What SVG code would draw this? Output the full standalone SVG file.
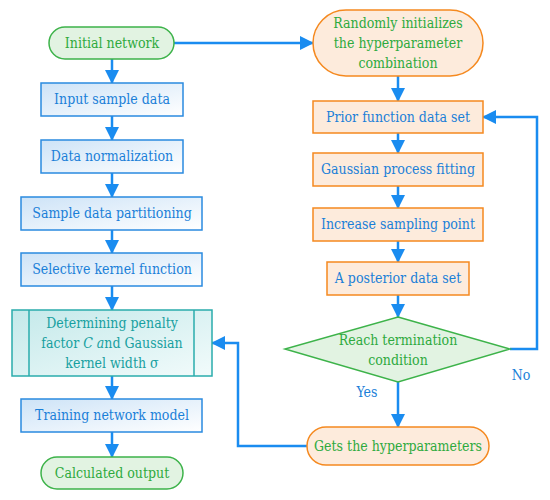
<svg xmlns="http://www.w3.org/2000/svg" width="550" height="500" viewBox="0 0 550 500">
<style>
text{font-family:'DejaVu Serif Condensed','DejaVu Serif',serif;font-stretch:condensed;font-size:14px;text-anchor:middle}
.g{fill:#e2f3e2;stroke:#3db34a;stroke-width:1.5}
.gt{fill:#2eaa3e}
.b{fill:url(#bg);stroke:#2a8ae0;stroke-width:1.5}
.bt{fill:#1a7fd8}
.o{fill:#fdebdc;stroke:#f5891f;stroke-width:1.5}
.t{fill:url(#tg);stroke:#2aacac;stroke-width:1.5}
.tt{fill:#17a0a0}
.c{fill:none;stroke:#1a8cf0;stroke-width:2.5}
</style>
<defs>
<linearGradient id="bg" x1="0" y1="0" x2="1" y2="1">
<stop offset="0" stop-color="#cde3f7"/><stop offset="1" stop-color="#ffffff"/>
</linearGradient>
<linearGradient id="tg" x1="0" y1="0" x2="1" y2="1">
<stop offset="0" stop-color="#c4e9ea"/><stop offset="1" stop-color="#f2fbfb"/>
</linearGradient>
<marker id="ah" markerUnits="userSpaceOnUse" markerWidth="14" markerHeight="14" viewBox="0 0 14 14" refX="13" refY="7" orient="auto">
<path d="M0,0 L14,7 L0,14 z" fill="#1a8cf0"/>
</marker>
</defs>
<g id="connectors">
<path class="c" d="M112,59 V83" marker-end="url(#ah)"/>
<path class="c" d="M112,116 V140" marker-end="url(#ah)"/>
<path class="c" d="M112,173 V197" marker-end="url(#ah)"/>
<path class="c" d="M112,230 V253" marker-end="url(#ah)"/>
<path class="c" d="M112,286 V310" marker-end="url(#ah)"/>
<path class="c" d="M112,376 V399" marker-end="url(#ah)"/>
<path class="c" d="M112,432 V457" marker-end="url(#ah)"/>
<path class="c" d="M174,43 H313" marker-end="url(#ah)"/>
<path class="c" d="M398,76 V101" marker-end="url(#ah)"/>
<path class="c" d="M398,133 V153" marker-end="url(#ah)"/>
<path class="c" d="M398,186 V208" marker-end="url(#ah)"/>
<path class="c" d="M398,241 V262" marker-end="url(#ah)"/>
<path class="c" d="M398,295 V317" marker-end="url(#ah)"/>
<path class="c" d="M398,382 V427" marker-end="url(#ah)"/>
<path class="c" d="M510,349 H537 V117 H483" marker-end="url(#ah)"/>
<path class="c" d="M307,446 H238 V343 H212" marker-end="url(#ah)"/>
<text x="367" y="397" class="bt">Yes</text>
<text x="521" y="380" class="bt">No</text>
</g>
<g id="initial-network">
<rect class="g" x="49" y="27" width="125" height="32" rx="16"/>
<text x="112" y="48" class="gt">Initial network</text>
</g>
<g id="input-sample-data">
<rect class="b" x="41" y="83" width="142" height="33"/>
<text x="112" y="104" class="bt">Input sample data</text>
</g>
<g id="data-normalization">
<rect class="b" x="41" y="140" width="142" height="33"/>
<text x="112" y="161" class="bt">Data normalization</text>
</g>
<g id="sample-data-partitioning">
<rect class="b" x="21" y="197" width="181" height="33"/>
<text x="112" y="218" class="bt">Sample data partitioning</text>
</g>
<g id="selective-kernel-function">
<rect class="b" x="21" y="253" width="181" height="33"/>
<text x="112" y="274" class="bt">Selective kernel function</text>
</g>
<g id="determining">
<rect class="t" x="12" y="310" width="200" height="66"/>
<line x1="29" y1="310" x2="29" y2="376" stroke="#2aacac" stroke-width="1.5"/>
<line x1="194" y1="310" x2="194" y2="376" stroke="#2aacac" stroke-width="1.5"/>
<text x="112" y="328" class="tt">Determining penalty</text>
<text x="112" y="348" class="tt">factor <tspan font-style="italic">C a</tspan>nd Gaussian</text>
<text x="112" y="368" class="tt">kernel width σ</text>
</g>
<g id="training-network-model">
<rect class="b" x="21" y="399" width="181" height="33"/>
<text x="112" y="420" class="bt">Training network model</text>
</g>
<g id="calculated-output">
<rect class="g" x="41" y="457" width="142" height="32" rx="16"/>
<text x="112" y="478" class="gt">Calculated output</text>
</g>
<g id="randomly-initializes">
<rect class="o" x="313" y="10" width="170" height="66" rx="33"/>
<text x="398" y="28" class="gt">Randomly initializes</text>
<text x="398" y="48" class="gt">the hyperparameter</text>
<text x="398" y="68" class="gt">combination</text>
</g>
<g id="prior-function-data-set">
<rect class="o" x="313" y="101" width="170" height="32"/>
<text x="398" y="122" class="bt">Prior function data set</text>
</g>
<g id="gaussian-process-fitting">
<rect class="o" x="313" y="153" width="170" height="33"/>
<text x="398" y="174" class="bt">Gaussian process fitting</text>
</g>
<g id="increase-sampling-point">
<rect class="o" x="313" y="208" width="170" height="33"/>
<text x="398" y="229" class="bt">Increase sampling point</text>
</g>
<g id="a-posterior-data-set">
<rect class="o" x="327" y="262" width="142" height="33"/>
<text x="398" y="283" class="bt">A posterior data set</text>
</g>
<g id="reach-termination">
<polygon class="g" points="398,317 510,349 398,382 285,349"/>
<text x="398" y="345" class="gt">Reach termination</text>
<text x="398" y="365" class="gt">condition</text>
</g>
<g id="gets-the-hyperparameters">
<rect class="o" x="307" y="427" width="182" height="38" rx="19"/>
<text x="398" y="451" class="gt">Gets the hyperparameters</text>
</g>
</svg>
